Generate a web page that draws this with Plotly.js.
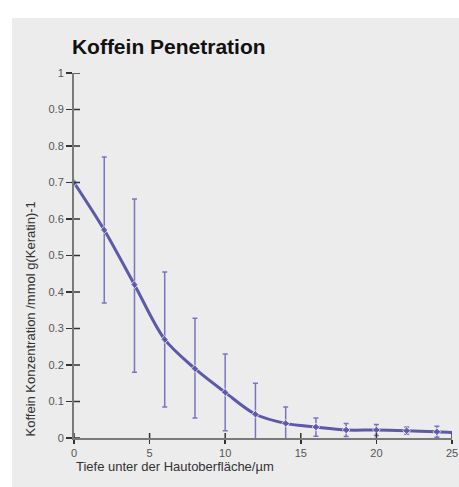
<!DOCTYPE html>
<html>
<head>
<meta charset="utf-8">
<script src="https://cdn.plot.ly/plotly-3.0.1.min.js"></script>
<style>
html,body{margin:0;padding:0;background:#ffffff;}
#chart{position:absolute;left:12px;top:18px;width:447px;height:469px;}
</style>
</head>
<body>
<div id="chart"></div>
<script>
// Data
const depth = [0, 2, 4, 6, 8, 10, 12, 14, 16, 18, 20, 22, 24, 25];
const concentration = [0.70, 0.57, 0.42, 0.27, 0.19, 0.125, 0.065, 0.04, 0.03, 0.022, 0.022, 0.02, 0.017, 0.015];
const errorPlus = [null, 0.20, 0.235, 0.185, 0.138, 0.105, 0.085, 0.045, 0.025, 0.018, 0.015, 0.01, 0.015, null];
const errorMinus = [null, 0.20, 0.24, 0.185, 0.135, 0.105, 0.085, 0.045, 0.025, 0.018, 0.015, 0.01, 0.015, null];
const markerSizes = [6, 6, 6, 6, 6, 6, 6, 6, 6, 6, 6, 6, 6, 0];
const xTicks = [0, 5, 10, 15, 20, 25];
const yTicks = [0, 0.1, 0.2, 0.3, 0.4, 0.5, 0.6, 0.7, 0.8, 0.9, 1];
const yTickText = ['0', '0.1', '0.2', '0.3', '0.4', '0.5', '0.6', '0.7', '0.8', '0.9', '1'];

const titleText = 'Koffein Penetration';
const xTitle = 'Tiefe unter der Hautoberfläche/µm';
const yTitle = 'Koffein Konzentration /mmol g(Keratin)-1';

const lineColor = 'rgb(92,88,170)';
const errColor = 'rgba(100,96,184,0.85)';
const font = 'Liberation Sans, Arial, Helvetica, sans-serif';
const tickCol = '#333';

const traces = [
  {
    x: depth, y: concentration,
    type: 'scatter', mode: 'lines+markers',
    line: {color: lineColor, width: 3, shape: 'spline', smoothing: 0.9},
    marker: {symbol: 'diamond', size: markerSizes, color: lineColor},
    error_y: {type: 'data', symmetric: false, array: errorPlus, arrayminus: errorMinus,
              color: errColor, thickness: 1.5, width: 2.5},
    cliponaxis: false, showlegend: false, hoverinfo: 'x+y'
  }
];

const axBase = {
  showgrid: false, zeroline: false, showline: true,
  linecolor: '#7a7a7a', linewidth: 2,
  tickcolor: tickCol, tickwidth: 1.5,
  tickfont: {family: font, size: 11, color: '#555'}
};

// inner halves of the crossing tick marks, placed through the axes' own scales
const tickShapes = [];
xTicks.forEach(function (v) {
  tickShapes.push({type: 'line', xref: 'x', yref: 'y', x0: v, x1: v,
    ysizemode: 'pixel', yanchor: 0, y0: 0, y1: 5,
    line: {color: tickCol, width: 1.5}});
});
yTicks.forEach(function (v) {
  tickShapes.push({type: 'line', xref: 'x', yref: 'y', y0: v, y1: v,
    xsizemode: 'pixel', xanchor: 0, x0: 0, x1: 6,
    line: {color: tickCol, width: 1.5}});
});

const layout = {
  width: 447, height: 469,
  paper_bgcolor: '#ececec', plot_bgcolor: '#ececec',
  margin: {l: 62, r: 7, t: 55, b: 49},
  font: {family: font, color: '#333'},
  title: {text: '<b>' + titleText + '</b>', font: {family: font, size: 21, color: '#111'},
          xref: 'container', x: 0.134, xanchor: 'left', yref: 'container', y: 0.938, yanchor: 'middle'},
  xaxis: Object.assign({}, axBase, {range: [0, 25], tickvals: xTicks, ticks: 'outside', ticklen: 4}),
  yaxis: Object.assign({}, axBase, {range: [0, 1], tickvals: yTicks, ticktext: yTickText, ticks: 'outside', ticklen: 6}),
  shapes: tickShapes,
  annotations: [
    {text: xTitle, xref: 'paper', yref: 'paper', x: 0, y: -0.077, xanchor: 'left', yanchor: 'middle',
     showarrow: false, font: {family: font, size: 13, color: '#333'}},
    {text: yTitle, xref: 'paper', yref: 'paper', x: -0.1138, y: 0, xanchor: 'center', yanchor: 'bottom',
     textangle: -90, showarrow: false, font: {family: font, size: 13, color: '#333'}}
  ]
};

Plotly.newPlot('chart', traces, layout, {displayModeBar: false, staticPlot: true});
</script>
</body>
</html>
